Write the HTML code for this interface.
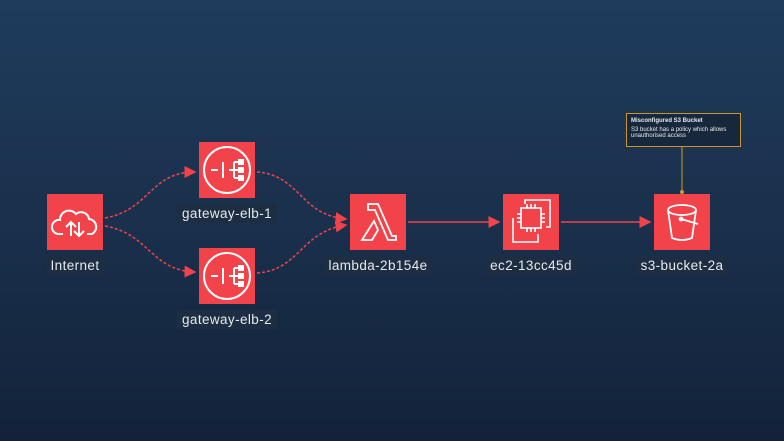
<!DOCTYPE html><html><head><style>
body{margin:0;width:784px;height:441px;overflow:hidden;background:linear-gradient(180deg,#1f3c5d 0%,#1a304c 50%,#13223a 100%);font-family:"Liberation Sans",sans-serif}
.n{position:absolute;width:56px;height:56px;background:#f2434b}
.l{position:absolute;color:#e6e9ee;font-size:13.5px;background:#1d2d42;padding:2px 5px;border-radius:2px;transform:translateX(-50%);white-space:nowrap;letter-spacing:.4px}
</style></head><body>
<svg width="784" height="441" style="position:absolute;left:0;top:0">
<defs><marker id="a" markerWidth="8" markerHeight="8" refX="7" refY="4" orient="auto"><path d="M0,0L8,4L0,8z" fill="#f2434b"/></marker></defs>
<g fill="none" stroke="#f2434b" stroke-width="1.5">
<path d="M105,218 C150,210 150,172 195,172" stroke-dasharray="3,2" marker-end="url(#a)"/>
<path d="M105,226 C150,234 150,270 195,272" stroke-dasharray="3,2" marker-end="url(#a)"/>
<path d="M257,172 C300,175 300,215 346,219" stroke-dasharray="3,2" marker-end="url(#a)"/>
<path d="M257,273 C300,270 300,232 346,225" stroke-dasharray="3,2" marker-end="url(#a)"/>
<path d="M408,222 H499" marker-end="url(#a)"/>
<path d="M561,222 H650" marker-end="url(#a)"/>
</g>
<path d="M682,146 V192" stroke="#d19a2a" stroke-width="1"/><circle cx="682" cy="192" r="2" fill="#d19a2a"/>
</svg>
<div class="n" style="left:47px;top:194px"><svg width="56" height="56" fill="none" stroke="#fff" stroke-width="2"><path d="M16,40 H11 a7,7 0 0 1 2,-14 a9,9 0 0 1 16,-6 a8,8 0 0 1 13,5 a8,8 0 0 1 3,15 H40"/><path d="M24,42 V28 M19,33 l5,-5 5,5 M32,28 V42 M27,37 l5,5 5,-5"/></svg></div>
<div class="n" style="left:199px;top:142px"><svg width="56" height="56" fill="none" stroke="#fff" stroke-width="2"><circle cx="28" cy="28" r="23"/><path d="M12,28 h7 M24,20 v16 M30,28 h5 M35,20 v16 M35,20 h5 M35,28 h5 M35,36 h5"/><rect x="40" y="18" width="4" height="4" fill="#fff"/><rect x="40" y="26" width="4" height="4" fill="#fff"/><rect x="40" y="34" width="4" height="4" fill="#fff"/></svg></div>
<div class="n" style="left:199px;top:248px"><svg width="56" height="56" fill="none" stroke="#fff" stroke-width="2"><circle cx="28" cy="28" r="23"/><path d="M12,28 h7 M24,20 v16 M30,28 h5 M35,20 v16 M35,20 h5 M35,28 h5 M35,36 h5"/><rect x="40" y="18" width="4" height="4" fill="#fff"/><rect x="40" y="26" width="4" height="4" fill="#fff"/><rect x="40" y="34" width="4" height="4" fill="#fff"/></svg></div>
<div class="n" style="left:350px;top:194px"><svg width="56" height="56" fill="none" stroke="#fff" stroke-width="1.8"><path d="M18,10 H28 L42,42 H46 V46 H38 L25,16 H18 Z M24,27 L28,36 L22,46 H12 Z"/></svg></div>
<div class="n" style="left:503px;top:194px"><svg width="56" height="56" fill="none" stroke="#fff" stroke-width="1.6"><rect x="18" y="14" width="20" height="20"/><path d="M24,10v4 M28,10v4 M32,10v4 M24,34v4 M28,34v4 M32,34v4 M14,20h4 M14,24h4 M14,28h4 M38,20h4 M38,24h4 M38,28h4 M22,10 V6 H47 V33 H43 M10,24 V48 H35 V40"/></svg></div>
<div class="n" style="left:654px;top:194px"><svg width="56" height="56" fill="none" stroke="#fff" stroke-width="1.8"><ellipse cx="28" cy="16" rx="14" ry="5"/><path d="M14,16 L18,44 Q28,48 38,44 L42,16"/><path d="M27,25 L44,30" /><circle cx="27" cy="25" r="1.5" fill="#fff"/></svg></div>
<div class="l" style="left:75px;top:256px">Internet</div>
<div class="l" style="left:227px;top:204px">gateway-elb-1</div>
<div class="l" style="left:227px;top:310px">gateway-elb-2</div>
<div class="l" style="left:378px;top:256px">lambda-2b154e</div>
<div class="l" style="left:531px;top:256px">ec2-13cc45d</div>
<div class="l" style="left:682px;top:256px">s3-bucket-2a</div>
<div style="position:absolute;left:626px;top:113px;width:105px;height:28px;border:1px solid #c9952c;background:#17283c;padding:2px 4px;color:#e6e9ee;font-size:6px;line-height:6.5px">
<div style="font-weight:bold;margin-top:2px">Misconfigured S3 Bucket</div>
<div style="margin-top:2px">S3 bucket has a policy which allows unauthorised access</div></div>
</body></html>
